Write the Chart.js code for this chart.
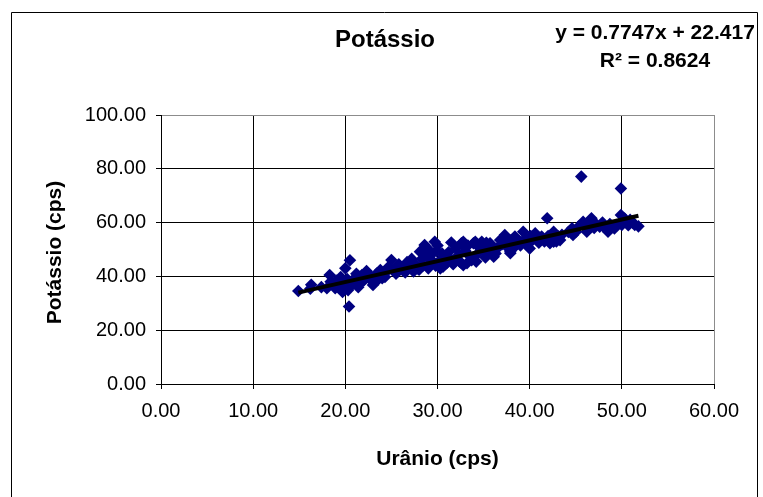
<!DOCTYPE html>
<html>
<head>
<meta charset="utf-8">
<title>Potássio</title>
<script src="https://cdn.jsdelivr.net/npm/chart.js@4/dist/chart.umd.min.js"></script>
<style>
  html, body { margin: 0; padding: 0; background: #fff; }
  canvas { display: block; }
</style>
</head>
<body>
<canvas id="chart" width="763" height="497"></canvas>
<script>
// Urânio (cps) readings
const uranio = [
  14.9, 16.3, 16.2, 17.4, 18.0, 18.3, 18.4, 18.9, 19.3, 19.8,
  19.7, 20.3, 20.0, 20.5, 20.4, 20.2, 20.8, 21.0, 21.4, 21.8,
  21.6, 22.3, 22.5, 23.0, 23.4, 23.0, 23.8, 24.0, 24.3, 24.7,
  25.0, 25.2, 25.5, 26.0, 26.3, 26.7, 27.0, 27.4, 27.6, 28.1,
  28.0, 28.3, 28.6, 28.8, 29.0, 29.2, 29.5, 29.7, 29.9, 30.3,
  30.3, 30.6, 30.8, 31.0, 31.4, 31.5, 31.9, 32.3, 32.6, 32.6,
  32.8, 32.8, 33.2, 33.5, 33.9, 34.1, 34.4, 34.6, 34.8, 35.2,
  35.7, 35.5, 36.1, 36.5, 37.0, 37.3, 37.3, 37.9, 37.9, 38.4,
  38.5, 38.9, 39.3, 39.6, 40.0, 40.3, 40.6, 41.0, 41.3, 41.9,
  42.2, 42.6, 42.6, 43.1, 43.3, 44.6, 44.7, 45.0, 45.6, 45.8,
  46.2, 46.0, 46.7, 47.2, 47.6, 48.2, 48.5, 48.9, 49.4, 49.9,
  49.9, 50.0, 50.5, 50.9, 51.4, 51.8,
  19.0, 19.5, 20.6, 21.2, 22.0, 22.8, 23.6, 24.4, 25.8, 26.5,
  27.2, 27.8, 28.4, 28.9, 29.3, 29.8, 30.0, 30.5, 31.2, 31.7,
  32.0, 32.4, 33.0, 33.3, 33.7, 34.2, 34.9, 35.3, 36.0, 36.3,
  36.8, 37.5, 38.0, 38.2, 39.0, 39.5, 40.1, 40.8, 41.6, 42.0,
  42.9, 43.5, 44.2, 45.3, 46.4, 47.0, 47.9, 48.7, 49.2, 50.3,
  50.7, 51.2
];

// Potássio (cps) readings, paired with uranio by index
const potassio = [
  34.6, 36.9, 35.4, 36.0, 35.6, 40.5, 38.0, 35.6, 37.5, 36.2,
  34.2, 34.9, 43.0, 46.0, 28.8, 39.0, 37.5, 39.3, 36.0, 40.5,
  37.4, 42.0, 39.5, 38.0, 41.1, 36.8, 42.4, 39.3, 39.8, 43.6,
  46.1, 42.4, 41.0, 43.5, 42.0, 45.3, 43.8, 41.8, 44.5, 49.2,
  42.5, 46.5, 51.7, 48.6, 43.0, 46.0, 45.5, 52.9, 49.5, 43.0,
  46.1, 43.6, 47.0, 44.9, 46.5, 52.6, 46.1, 48.0, 52.3, 44.9,
  44.2, 52.9, 44.9, 47.5, 52.3, 52.9, 48.6, 50.5, 52.9, 47.0,
  52.3, 49.5, 47.3, 50.5, 52.0, 55.4, 54.8, 48.6, 49.2, 54.8,
  51.5, 53.0, 56.6, 52.0, 50.4, 53.5, 56.0, 52.5, 54.8, 61.6,
  52.3, 56.6, 52.9, 54.8, 53.5, 57.9, 55.4, 56.5, 77.1, 60.3,
  56.6, 58.5, 61.6, 59.5, 58.5, 57.9, 56.6, 58.5, 59.1, 72.7,
  62.8, 59.1, 60.3, 61.0, 59.1, 58.6,
  38.5, 39.8, 36.5, 41.0, 38.5, 40.0, 39.0, 41.5, 44.5, 41.5,
  46.5, 43.0, 44.0, 50.5, 48.0, 44.0, 51.5, 48.5, 49.0, 44.5,
  50.5, 45.5, 49.5, 51.5, 46.0, 45.5, 50.0, 52.5, 51.0, 48.5,
  53.5, 51.0, 53.5, 50.5, 51.5, 54.0, 55.0, 53.5, 53.0, 55.0,
  53.0, 55.5, 56.5, 58.5, 59.5, 58.0, 60.0, 59.5, 57.8, 61.5,
  59.0, 60.0
];

// Axis ticks
const xTicks = [0, 10, 20, 30, 40, 50, 60];
const yTicks = [0, 20, 40, 60, 80, 100];

// Linear trend line: y = 0.7747x + 22.417, R² = 0.8624
const SLOPE = 0.7747;
const INTERCEPT = 22.417;
const R2 = 0.8624;

const points = uranio.map((u, i) => ({ x: u, y: potassio[i] }));
const xMin = Math.min(...uranio);
const xMax = Math.max(...uranio);
const trend = [xMin, xMax].map(x => ({ x: x, y: SLOPE * x + INTERCEPT }));

const FONT = "'Liberation Sans', Arial, sans-serif";

// Frame, title, trend equation and axis titles
const decorations = {
  id: 'decorations',
  beforeDraw(chart) {
    const c = chart.ctx;
    c.save();
    c.fillStyle = '#fff';
    c.fillRect(0, 0, chart.width, chart.height);
    c.strokeStyle = '#000';
    c.lineWidth = 1;
    c.beginPath();
    c.moveTo(11.5, 500);
    c.lineTo(11.5, 12.5);
    c.lineTo(757.5, 12.5);
    c.lineTo(757.5, 500);
    c.stroke();
    c.restore();
  },
  afterDraw(chart) {
    const c = chart.ctx;
    const area = chart.chartArea;
    c.save();
    c.fillStyle = '#000';
    c.textAlign = 'center';
    c.textBaseline = 'alphabetic';

    c.font = 'bold 24px ' + FONT;
    c.fillText('Potássio', 385, 47);

    c.font = 'bold 21px ' + FONT;
    const sign = INTERCEPT >= 0 ? ' + ' : ' - ';
    c.fillText('y = ' + SLOPE + 'x' + sign + Math.abs(INTERCEPT), 655, 39);
    c.fillText('R² = ' + R2, 655, 67);

    c.fillText('Urânio (cps)', (area.left + area.right) / 2, 465);

    c.translate(61, (area.top + area.bottom) / 2 + 3);
    c.rotate(-Math.PI / 2);
    c.fillText('Potássio (cps)', 0, 0);
    c.restore();
  }
};

function gridColor(maxVal) {
  return ctx => (ctx.tick && ctx.tick.value === maxVal) ? '#8c8c8c' : '#000';
}

new Chart(document.getElementById('chart'), {
  type: 'scatter',
  data: {
    datasets: [
      {
        label: 'Linear (Potássio)',
        data: trend,
        showLine: true,
        pointRadius: 0,
        borderColor: '#000',
        borderWidth: 4,
        order: 0
      },
      {
        label: 'Potássio',
        data: points,
        pointStyle: 'rectRot',
        pointRadius: 6.3,
        backgroundColor: '#000080',
        borderColor: '#000080',
        borderWidth: 0,
        order: 1
      }
    ]
  },
  options: {
    responsive: false,
    animation: false,
    events: [],
    layout: { padding: { left: 0, top: 115, right: 49, bottom: 0 } },
    plugins: { legend: { display: false }, tooltip: { enabled: false }, title: { display: false } },
    scales: {
      x: {
        type: 'linear',
        min: 0,
        max: 60,
        afterBuildTicks: s => { s.ticks = xTicks.map(v => ({ value: v })); },
        afterFit: s => { s.height = 113; },
        grid: { color: gridColor(60), lineWidth: 1, tickLength: 5, tickColor: '#000', drawTicks: true },
        border: { color: '#000', width: 1 },
        ticks: {
          color: '#000',
          padding: 10,
          maxRotation: 0,
          font: { family: FONT, size: 20 },
          callback: v => Number(v).toFixed(2)
        }
      },
      y: {
        type: 'linear',
        min: 0,
        max: 100,
        afterBuildTicks: s => { s.ticks = yTicks.map(v => ({ value: v })); },
        afterFit: s => { s.width = 161; },
        grid: { color: gridColor(100), lineWidth: 1, tickLength: 5, tickColor: '#000', drawTicks: true },
        border: { color: '#000', width: 1 },
        ticks: {
          color: '#000',
          padding: 10,
          font: { family: FONT, size: 20 },
          callback: v => Number(v).toFixed(2)
        }
      }
    }
  },
  plugins: [decorations]
});
</script>
</body>
</html>
